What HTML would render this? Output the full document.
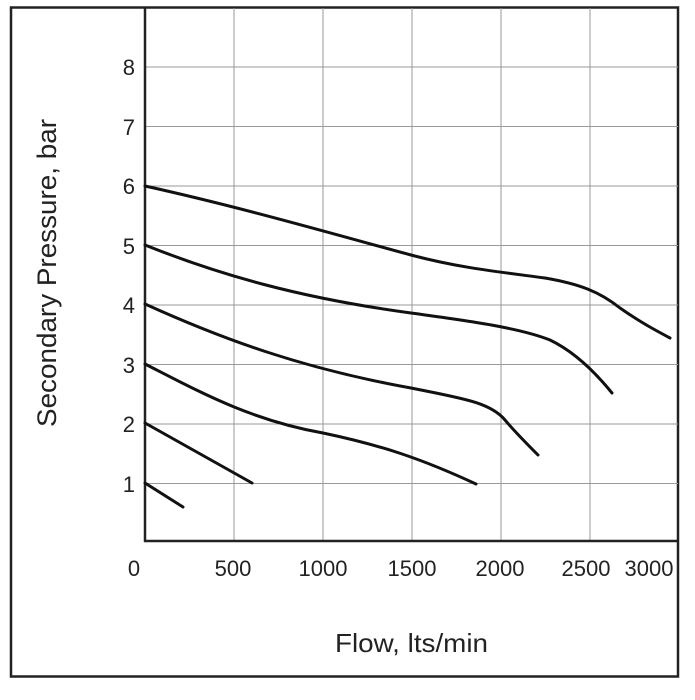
<!DOCTYPE html>
<html><head><style>body{margin:0;background:#fff}</style></head><body>
<svg width="695" height="695" viewBox="0 0 695 695" xmlns="http://www.w3.org/2000/svg" font-family="Liberation Sans, sans-serif">
<rect x="11" y="7.5" width="667" height="669" fill="none" stroke="#222" stroke-width="2.5"/>
<g stroke="#999" stroke-width="1">
<line x1="234" y1="8" x2="234" y2="541"/><line x1="323" y1="8" x2="323" y2="541"/>
<line x1="412" y1="8" x2="412" y2="541"/><line x1="501" y1="8" x2="501" y2="541"/>
<line x1="590" y1="8" x2="590" y2="541"/>
<line x1="145" y1="67" x2="678" y2="67"/><line x1="145" y1="126.5" x2="678" y2="126.5"/>
<line x1="145" y1="186" x2="678" y2="186"/><line x1="145" y1="245.5" x2="678" y2="245.5"/>
<line x1="145" y1="305" x2="678" y2="305"/><line x1="145" y1="364.5" x2="678" y2="364.5"/>
<line x1="145" y1="424" x2="678" y2="424"/><line x1="145" y1="483.5" x2="678" y2="483.5"/>
</g>
<line x1="145" y1="7" x2="145" y2="542" stroke="#222" stroke-width="2.5"/>
<line x1="144" y1="541" x2="678" y2="541" stroke="#222" stroke-width="2.5"/>
<g fill="none" stroke="#111" stroke-width="3" stroke-linecap="round">
<path d="M145,186 C240,207 330,233 411,255 C460,268 500,272 545,278 C580,284 600,292 620,308 C640,322 655,330 670,338"/>
<path d="M145,245 C220,275 300,298 411,313 C470,321 520,328 550,340 C575,352 595,372 612,393"/>
<path d="M145,304 C220,338 300,368 411,388 C460,398 490,402 505,420 C515,432 528,445 538,455"/>
<path d="M145,364 C200,392 250,420 323,433 C380,445 420,458 476,484"/>
<path d="M145,423 L252,483"/>
<path d="M145,483 L183,507"/>
</g>
<g font-size="22" fill="#222" text-anchor="end">
<text x="135" y="75">8</text><text x="135" y="135">7</text><text x="135" y="194">6</text>
<text x="135" y="254">5</text><text x="135" y="313">4</text><text x="135" y="373">3</text>
<text x="135" y="432">2</text><text x="135" y="492">1</text>
</g>
<g font-size="22" fill="#222" text-anchor="middle">
<text x="134" y="576">0</text><text x="233" y="576">500</text><text x="323" y="576">1000</text>
<text x="412" y="576">1500</text><text x="500" y="576">2000</text><text x="586" y="576">2500</text>
<text x="649" y="576">3000</text>
</g>
<text x="335" y="652" font-size="26" fill="#222" textLength="153" lengthAdjust="spacingAndGlyphs">Flow, lts/min</text>
<text transform="translate(56,427) rotate(-90)" font-size="27" fill="#222" textLength="308" lengthAdjust="spacingAndGlyphs">Secondary Pressure, bar</text>
</svg>
</body></html>
